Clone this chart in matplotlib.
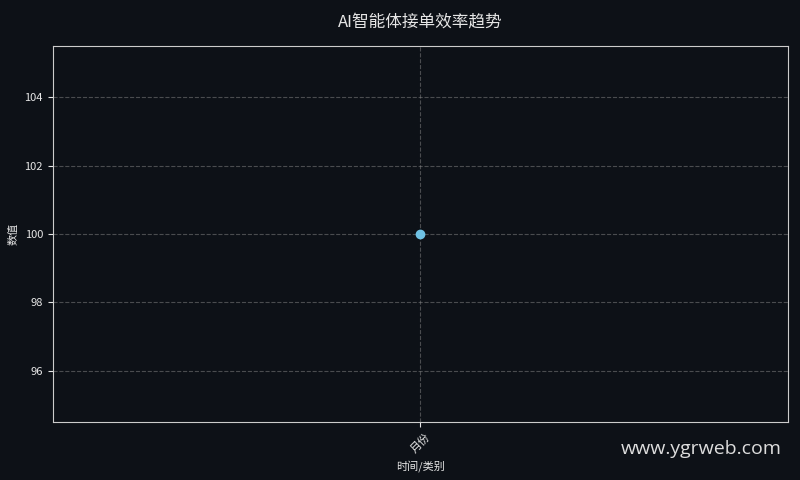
import matplotlib
matplotlib.use("Agg")
from matplotlib import pyplot as plt

plt.rcParams["font.family"] = ["Noto Sans CJK SC", "DejaVu Sans"]

categories = ["月份"]
values = [100]

BG = "#0d1117"
FG = "#e6e6e6"

fig, ax = plt.subplots(figsize=(8, 4.8), dpi=100)
fig.patch.set_facecolor(BG)
ax.set_facecolor(BG)
fig.subplots_adjust(left=0.066, right=0.985, top=0.904, bottom=0.121)

ax.plot(categories, values, marker="o", markersize=6, color="#6ec1e4", linewidth=2)

ax.set_title("AI智能体接单效率趋势", color=FG, fontsize=12, pad=14)
ax.set_xlabel("时间/类别", color=FG, fontsize=8)
ax.set_ylabel("数值", color=FG, fontsize=8)
ax.tick_params(colors=FG, labelsize=8)
plt.setp(ax.get_xticklabels(), rotation=45)
for s in ax.spines.values():
    s.set_color("#cccccc")
ax.grid(True, linestyle="--", color="#888888", alpha=0.5, linewidth=0.8)

fig.text(0.977, 0.045, "www.ygrweb.com", color="#dddddd", fontsize=14,
         ha="right", va="bottom", family=["Open Sans", "DejaVu Sans"])

fig.savefig("out.png", facecolor=BG)
